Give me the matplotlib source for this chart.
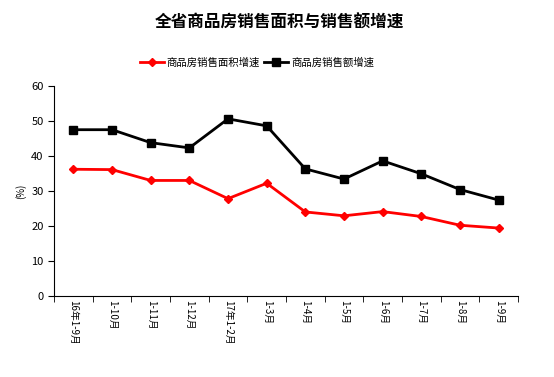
import matplotlib.pyplot as plt
import numpy as np

plt.rcParams['font.family'] = ['Noto Sans CJK SC', 'DejaVu Sans']

months = ['16年1-9月', '1-10月', '1-11月', '1-12月', '17年1-2月', '1-3月',
          '1-4月', '1-5月', '1-6月', '1-7月', '1-8月', '1-9月']
area_growth = [36.2, 36.1, 33.0, 33.0, 27.8, 32.2, 24.0, 22.9, 24.1, 22.7, 20.2, 19.4]
sales_growth = [47.5, 47.5, 43.8, 42.3, 50.6, 48.6, 36.3, 33.4, 38.6, 34.9, 30.4, 27.4]

fig = plt.figure(figsize=(5.54, 3.77), dpi=100)
ax = fig.add_axes([0.0975, 0.215, 0.8375, 0.557])

x = np.arange(len(months))
ax.plot(x, area_growth, color='#ff0000', lw=2, marker='D', ms=4, label='商品房销售面积增速')
ax.plot(x, sales_growth, color='black', lw=2, marker='s', ms=6, label='商品房销售额增速')

ax.set_xlim(-0.5, len(months) - 0.5)
ax.set_ylim(0, 60)
ax.set_yticks(range(0, 61, 10))
ax.tick_params(axis='y', labelsize=8, length=4, direction='out')
ax.set_xticks(x)
ax.set_xticklabels(months, rotation=270, fontsize=7, va='top')
ax.tick_params(axis='x', which='major', length=0, pad=3)
ax.set_xticks(np.arange(-0.5, len(months)), minor=True)
ax.tick_params(axis='x', which='minor', length=4, direction='out')
ax.spines['top'].set_visible(False)
ax.spines['right'].set_visible(False)
ax.set_ylabel('(%)', fontsize=7, labelpad=4)

fig.suptitle('全省商品房销售面积与销售额增速', x=0.505, y=0.965, fontsize=12, fontweight='bold')
fig.legend(loc='center', bbox_to_anchor=(0.464, 0.833), ncol=2, frameon=False,
           fontsize=7.5, handlelength=2.3, columnspacing=0.4, handletextpad=0.3)

fig.savefig('out.png', dpi=100)
